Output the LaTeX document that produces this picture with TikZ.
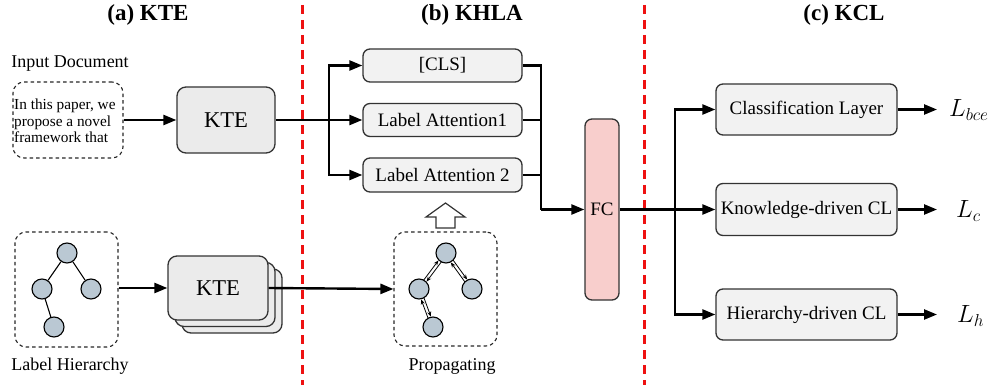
\documentclass[tikz,border=0pt]{standalone}
\usepackage{fontspec}
\setmainfont{Liberation Serif}
\usetikzlibrary{arrows.meta,calc}
\definecolor{boxfill}{HTML}{EBEBEB}
\definecolor{boxfill2}{HTML}{F2F2F2}
\definecolor{boxline}{HTML}{333333}
\definecolor{treefill}{HTML}{BAC8D3}
\definecolor{fcfill}{HTML}{F8CECC}
\definecolor{sepred}{HTML}{EE1111}
\begin{document}
\begin{tikzpicture}[x=1pt,y=-1pt,
  box/.style={draw=boxline,line width=1.3pt,rounded corners=7pt,fill=boxfill2,inner sep=0pt,font=\fontsize{19}{22}\selectfont},
  ktebox/.style={draw=boxline,line width=1.3pt,rounded corners=9pt,fill=boxfill,inner sep=0pt,minimum width=98pt,minimum height=66pt,font=\fontsize{22.6}{26}\selectfont},
  dashbox/.style={draw=black!85,line width=1.1pt,dash pattern=on 3.5pt off 3pt,rounded corners=11pt,inner sep=0pt},
  tnode/.style={circle,draw=black,line width=1.1pt,fill=treefill,minimum size=20pt,inner sep=0pt},
  tedge/.style={line width=1.1pt},
  pedge/.style={line width=0.8pt,-{Stealth[length=5pt,width=4pt]}},
  arr/.style={line width=2.4pt,-{Triangle[length=13pt,width=10pt]}},
  plain/.style={line width=2.4pt},
  lbl/.style={font=\fontsize{18}{21}\selectfont,inner sep=0pt},
  ttl/.style={font=\fontsize{23}{26}\selectfont\bfseries,inner sep=0pt},
  loss/.style={font=\fontsize{25}{28}\selectfont,inner sep=0pt,anchor=west},
  sep/.style={draw=sepred,line width=3pt,dash pattern=on 9pt off 6pt}
]
\path[use as bounding box] (0,0) rectangle (991,385);

% titles
\node[ttl] (ta) at (148,15) {(a) KTE};
\node[ttl] (tb) at (472,15) {(b) KHLA};
\node[ttl] (tc) at (844,15) {(c) KCL};

% separators
\draw[sep] (302,5) -- (302,385);
\draw[sep] (644,5) -- (644,385);

% ---- (a) KTE ----
\node[lbl] (indoc) at (70,64) {Input Document};
\node[dashbox,minimum width=110pt,minimum height=76pt] (doc) at (68,120) {};
\node[anchor=west,align=left,inner sep=0pt,font=\fontsize{15.3}{16.5}\selectfont] (doctext) at (14,121) {In this paper, we\\propose a novel\\framework that};
\node[ktebox] (kte1) at (226,120) {KTE};
\draw[arr] (doc.east) -- (kte1.west);

\node[dashbox,minimum width=103pt,minimum height=115pt] (lh) at (66.5,289.5) {};
\node[tnode] (r1) at (67,253) {};
\node[tnode] (r2) at (42,289) {};
\node[tnode] (r3) at (91,289) {};
\node[tnode] (r4) at (54,327) {};
\draw[tedge] (r1) -- (r2);
\draw[tedge] (r1) -- (r3);
\draw[tedge] (r2) -- (r4);
\node[lbl] (lhl) at (70,366) {Label Hierarchy};

\node[ktebox,minimum width=100pt,minimum height=64pt] (kteb3) at (232,301) {};
\node[ktebox,minimum width=100pt,minimum height=64pt] (kteb2) at (225,294.5) {};
\node[ktebox,minimum width=100pt,minimum height=64pt] (kte2) at (218,288) {KTE};
\draw[arr] (lh.east |- kte2.west) -- (kte2.west);

% ---- (b) KHLA ----
\node[box,minimum width=159pt,minimum height=33pt] (cls) at (442.5,65.5) {[CLS]};
\node[box,minimum width=159pt,minimum height=33pt] (la1) at (442.5,120) {Label Attention1};
\node[box,minimum width=159pt,minimum height=34pt] (la2) at (442.5,175) {Label Attention 2};
\coordinate (br1) at (329,120);
\draw[arr] (kte1.east) -- (la1.west);
\draw[arr] (br1) |- (cls.west);
\draw[arr] (br1) |- (la2.west);

\node[dashbox,minimum width=103pt,minimum height=114pt] (prop) at (445.5,289) {};
\node[tnode] (p1) at (446,253) {};
\node[tnode] (p2) at (419,289) {};
\node[tnode] (p3) at (472,289) {};
\node[tnode] (p4) at (433,327) {};
\foreach \a/\b in {p1/p2,p1/p3,p2/p4}{
  \draw[pedge,shorten <=10pt,shorten >=10.5pt] ($(\a)!1.6pt!90:(\b)$) -- ($(\b)!1.6pt!-90:(\a)$);
  \draw[pedge,shorten <=10pt,shorten >=10.5pt] ($(\b)!1.6pt!90:(\a)$) -- ($(\a)!1.6pt!-90:(\b)$);
}
\node[lbl] (propl) at (452,366) {Propagating};
\draw[arr] (kte2.east) -- (prop.west);

\draw[draw=boxline,line width=1.2pt,fill=white,line join=miter] (436,228) -- (436,217) -- (426,217) -- (445.5,203) -- (465,217) -- (455,217) -- (455,228) -- cycle;

% FC
\node[box,fill=fcfill,minimum width=34pt,minimum height=181pt] (fc) at (602,209.5) {FC};
\coordinate (mg) at (541,209.5);
\draw[plain] (cls.east) -| (mg);
\draw[plain] (la1.east) -- (la1.east -| mg);
\draw[plain] (la2.east) -- (la2.east -| mg);
\draw[arr] (mg) -- (fc.west);

% ---- (c) KCL ----
\node[box,minimum width=181pt,minimum height=51pt] (cl) at (806.5,109.5) {Classification Layer};
\node[box,minimum width=181pt,minimum height=52pt] (kcl) at (806.5,209.5) {Knowledge-driven CL};
\node[box,minimum width=181pt,minimum height=51pt] (hcl) at (806.5,314.5) {Hierarchy-driven CL};
\coordinate (br2) at (675,209.5);
\draw[arr] (fc.east) -- (kcl.west);
\draw[arr] (br2) |- (cl.west);
\draw[arr] (br2) |- (hcl.west);

\node[loss] (lb) at (949,110) {$L_{bce}$};
\node[loss] (lc) at (956,211) {$L_c$};
\node[loss] (lhh) at (957,316) {$L_h$};
\coordinate (o1) at (937,109.5);
\coordinate (o2) at (937,209.5);
\coordinate (o3) at (937,314.5);
\draw[arr] (cl.east) -- (o1);
\draw[arr] (kcl.east) -- (o2);
\draw[arr] (hcl.east) -- (o3);
\end{tikzpicture}
\end{document}
